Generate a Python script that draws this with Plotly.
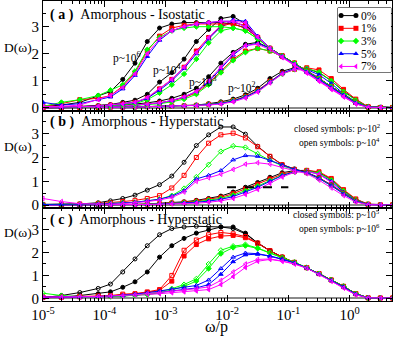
import numpy as np
import plotly.graph_objects as go

# log10(omega/p) of the sampled frequencies (same grid for every spectrum)
LOG_W = [-5.0, -4.7, -4.4, -4.1, -3.9, -3.7, -3.5, -3.3, -3.1, -2.9, -2.7, -2.5, -2.3, -2.1,
         -1.9, -1.7, -1.5, -1.3, -1.1, -0.9, -0.7, -0.5, -0.3, -0.1, 0.1, 0.3, 0.5, 0.7]

COMPOSITIONS = ["0%", "1%", "3%", "5%", "7%"]
COLORS = ["#000000", "#ff0000", "#00ff00", "#0000ff", "#ff00ff"]
SYMBOLS = ["circle", "square", "diamond", "triangle-up", "triangle-left"]

XTICK_VALUES = [1e-5, 1e-4, 1e-3, 1e-2, 1e-1, 1e0]
XTICK_LABELS = ["10<sup>-5</sup>", "10<sup>-4</sup>", "10<sup>-3</sup>",
                "10<sup>-2</sup>", "10<sup>-1</sup>", "10<sup>0</sup>"]

# (a) amorphous, isostatic
A_P6_0 = [0.05, 0.1, 0.2, 0.45, 0.6, 1.05, 1.65, 2.45, 2.95, 3.1, 3.15, 3.15, 3.15, 3.15, 3.1, 2.95, 2.6, 2.2, 1.92, 1.65, 1.36, 1.08, 0.78, 0.5, 0.2, 0.03, 0.01, 0.01]
A_P6_1 = [0.05, 0.15, 0.3, 0.35, 0.45, 0.8, 1.3, 2.1, 2.65, 2.95, 3.05, 3.1, 3.1, 3.1, 3.1, 2.95, 2.6, 2.2, 1.92, 1.65, 1.36, 1.08, 0.78, 0.5, 0.2, 0.03, 0.01, 0.01]
A_P6_3 = [0.05, 0.2, 0.3, 0.45, 0.65, 0.85, 1.35, 2.15, 2.6, 2.85, 2.95, 3.0, 3.0, 3.0, 2.95, 2.85, 2.55, 2.2, 1.92, 1.65, 1.36, 1.08, 0.78, 0.5, 0.2, 0.03, 0.01, 0.01]
A_P6_5 = [0.2, 0.1, 0.15, 0.3, 0.4, 0.7, 1.2, 1.9, 2.5, 2.85, 3.0, 3.1, 3.15, 3.2, 3.2, 3.0, 2.62, 2.2, 1.9, 1.62, 1.33, 1.05, 0.75, 0.47, 0.18, 0.03, 0.01, 0.01]
A_P6_7 = [0.05, 0.05, 0.1, 0.3, 0.45, 0.75, 1.25, 2.0, 2.55, 2.85, 3.0, 3.1, 3.15, 3.2, 3.2, 3.0, 2.62, 2.2, 1.88, 1.6, 1.3, 1.0, 0.7, 0.42, 0.15, 0.02, 0.01, 0.01]

A_P4_0 = [0.02, 0.02, 0.05, 0.08, 0.12, 0.2, 0.28, 0.5, 0.95, 1.3, 1.8, 2.45, 2.9, 3.3, 3.38, 3.1, 2.6, 2.2, 1.92, 1.65, 1.36, 1.08, 0.78, 0.5, 0.2, 0.03, 0.01, 0.01]
A_P4_1 = [0.02, 0.02, 0.04, 0.06, 0.1, 0.14, 0.2, 0.35, 0.7, 1.05, 1.5, 2.1, 2.6, 3.0, 3.15, 3.05, 2.6, 2.2, 1.92, 1.65, 1.36, 1.08, 0.78, 0.5, 0.2, 0.03, 0.01, 0.01]
A_P4_3 = [0.02, 0.02, 0.03, 0.05, 0.08, 0.11, 0.15, 0.3, 0.55, 0.85, 1.25, 1.8, 2.4, 2.85, 2.95, 2.85, 2.55, 2.2, 1.92, 1.65, 1.36, 1.08, 0.78, 0.5, 0.2, 0.03, 0.01, 0.01]
A_P4_5 = [0.02, 0.02, 0.04, 0.06, 0.1, 0.14, 0.2, 0.35, 0.65, 1.0, 1.45, 2.0, 2.55, 3.0, 3.25, 3.2, 2.65, 2.2, 1.9, 1.62, 1.33, 1.05, 0.75, 0.47, 0.18, 0.03, 0.01, 0.01]
A_P4_7 = [0.02, 0.02, 0.04, 0.06, 0.1, 0.14, 0.2, 0.38, 0.7, 1.05, 1.5, 2.05, 2.6, 3.05, 3.2, 3.15, 2.62, 2.2, 1.88, 1.6, 1.3, 1.0, 0.7, 0.42, 0.15, 0.02, 0.01, 0.01]

A_P3_0 = [0.0, 0.01, 0.02, 0.04, 0.06, 0.1, 0.14, 0.18, 0.25, 0.35, 0.5, 0.72, 1.15, 1.65, 2.05, 2.35, 2.42, 2.2, 1.92, 1.65, 1.36, 1.08, 0.78, 0.5, 0.2, 0.03, 0.01, 0.01]
A_P3_1 = [0.0, 0.01, 0.02, 0.03, 0.05, 0.07, 0.1, 0.13, 0.18, 0.25, 0.38, 0.55, 0.9, 1.35, 1.8, 2.1, 2.2, 2.1, 1.9, 1.65, 1.36, 1.08, 0.78, 0.5, 0.2, 0.03, 0.01, 0.01]
A_P3_3 = [0.0, 0.01, 0.02, 0.03, 0.04, 0.06, 0.09, 0.11, 0.15, 0.22, 0.32, 0.5, 0.85, 1.3, 1.75, 2.05, 2.2, 2.1, 1.9, 1.65, 1.36, 1.08, 0.78, 0.5, 0.2, 0.03, 0.01, 0.01]
A_P3_5 = [0.0, 0.01, 0.02, 0.03, 0.05, 0.07, 0.1, 0.13, 0.18, 0.27, 0.4, 0.6, 0.95, 1.45, 1.95, 2.3, 2.38, 2.2, 1.9, 1.62, 1.33, 1.05, 0.75, 0.47, 0.18, 0.03, 0.01, 0.01]
A_P3_7 = [0.0, 0.01, 0.02, 0.03, 0.05, 0.07, 0.1, 0.13, 0.18, 0.27, 0.4, 0.6, 1.0, 1.5, 2.0, 2.3, 2.35, 2.15, 1.85, 1.58, 1.28, 0.98, 0.68, 0.4, 0.14, 0.02, 0.01, 0.01]

A_P2_0 = [0.0, 0.0, 0.01, 0.01, 0.02, 0.02, 0.03, 0.04, 0.05, 0.06, 0.08, 0.1, 0.15, 0.22, 0.32, 0.48, 0.72, 1.08, 1.35, 1.48, 1.45, 1.3, 1.0, 0.62, 0.3, 0.03, 0.01, 0.01]
A_P2_1 = [0.0, 0.0, 0.01, 0.01, 0.02, 0.02, 0.03, 0.04, 0.05, 0.06, 0.07, 0.09, 0.13, 0.18, 0.27, 0.42, 0.65, 0.98, 1.28, 1.42, 1.48, 1.4, 1.08, 0.68, 0.32, 0.04, 0.01, 0.01]
A_P2_3 = [0.0, 0.0, 0.01, 0.01, 0.02, 0.02, 0.03, 0.04, 0.05, 0.06, 0.07, 0.09, 0.12, 0.17, 0.26, 0.4, 0.62, 0.95, 1.25, 1.42, 1.45, 1.32, 1.0, 0.6, 0.28, 0.03, 0.01, 0.01]
A_P2_5 = [0.0, 0.0, 0.01, 0.01, 0.02, 0.02, 0.03, 0.04, 0.05, 0.06, 0.07, 0.09, 0.12, 0.16, 0.25, 0.4, 0.62, 0.95, 1.28, 1.45, 1.42, 1.22, 0.9, 0.52, 0.22, 0.02, 0.01, 0.01]
A_P2_7 = [0.0, 0.0, 0.01, 0.01, 0.02, 0.02, 0.03, 0.04, 0.05, 0.06, 0.07, 0.08, 0.1, 0.14, 0.22, 0.36, 0.58, 0.92, 1.25, 1.42, 1.38, 1.12, 0.78, 0.42, 0.15, 0.02, 0.01, 0.01]

# (b) amorphous, hyperstatic: open p~1e4, closed p~1e2
B_P4_0 = [0.02, 0.02, 0.05, 0.1, 0.18, 0.28, 0.42, 0.63, 0.86, 1.22, 1.8, 2.5, 2.95, 3.28, 3.28, 2.98, 2.47, 2.05, 1.7, 1.52, 1.38, 1.15, 0.85, 0.5, 0.18, 0.03, 0.01, 0.01]
B_P4_1 = [0.03, 0.03, 0.05, 0.07, 0.1, 0.15, 0.2, 0.28, 0.4, 0.72, 1.25, 2.0, 2.6, 2.95, 3.02, 2.82, 2.45, 2.05, 1.7, 1.5, 1.36, 1.14, 0.84, 0.5, 0.18, 0.03, 0.01, 0.01]
B_P4_3 = [0.03, 0.03, 0.04, 0.05, 0.07, 0.09, 0.12, 0.18, 0.25, 0.4, 0.7, 1.18, 1.7, 2.25, 2.48, 2.42, 2.15, 1.88, 1.65, 1.48, 1.35, 1.12, 0.82, 0.48, 0.17, 0.03, 0.01, 0.01]
B_P4_5 = [0.03, 0.03, 0.04, 0.05, 0.07, 0.09, 0.12, 0.18, 0.25, 0.38, 0.6, 1.1, 1.25, 1.45, 1.9, 2.08, 2.05, 1.88, 1.68, 1.5, 1.36, 1.12, 0.82, 0.47, 0.16, 0.03, 0.01, 0.01]
B_P4_7 = [0.28, 0.15, 0.06, 0.03, 0.04, 0.06, 0.1, 0.15, 0.22, 0.32, 0.55, 1.0, 1.15, 1.3, 1.5, 1.72, 1.78, 1.72, 1.58, 1.45, 1.32, 1.05, 0.72, 0.4, 0.13, 0.02, 0.01, 0.01]

B_P2_0 = [0.0, 0.0, 0.0, 0.01, 0.01, 0.02, 0.03, 0.05, 0.07, 0.1, 0.14, 0.2, 0.28, 0.38, 0.55, 0.75, 0.95, 1.17, 1.36, 1.45, 1.46, 1.37, 1.08, 0.62, 0.24, 0.04, 0.01, 0.01]
B_P2_1 = [0.0, 0.0, 0.0, 0.01, 0.01, 0.02, 0.03, 0.04, 0.06, 0.09, 0.12, 0.17, 0.24, 0.33, 0.48, 0.68, 0.88, 1.1, 1.3, 1.42, 1.46, 1.4, 1.12, 0.65, 0.26, 0.04, 0.01, 0.01]
B_P2_3 = [0.0, 0.0, 0.0, 0.01, 0.01, 0.02, 0.03, 0.04, 0.05, 0.07, 0.1, 0.14, 0.2, 0.28, 0.42, 0.6, 0.8, 1.03, 1.25, 1.4, 1.43, 1.35, 1.05, 0.6, 0.22, 0.03, 0.01, 0.01]
B_P2_5 = [0.0, 0.0, 0.0, 0.01, 0.01, 0.02, 0.02, 0.03, 0.05, 0.07, 0.09, 0.12, 0.17, 0.24, 0.36, 0.54, 0.75, 1.0, 1.24, 1.4, 1.42, 1.3, 1.0, 0.55, 0.2, 0.03, 0.01, 0.01]
B_P2_7 = [0.0, 0.0, 0.0, 0.01, 0.01, 0.01, 0.02, 0.03, 0.04, 0.05, 0.06, 0.08, 0.12, 0.18, 0.28, 0.45, 0.66, 0.92, 1.18, 1.38, 1.42, 1.3, 0.95, 0.5, 0.17, 0.02, 0.01, 0.01]

# (c) amorphous, hyperstatic: open p~1e6, closed p~1e5
C_P6_0 = [0.03, 0.12, 0.25, 0.43, 0.62, 1.15, 1.72, 2.3, 2.78, 3.05, 3.12, 3.15, 3.15, 3.12, 3.05, 2.82, 2.42, 2.08, 1.8, 1.57, 1.34, 1.08, 0.8, 0.52, 0.2, 0.02, 0.01, 0.01]
C_P6_1 = [0.05, 0.05, 0.08, 0.1, 0.12, 0.18, 0.2, 0.28, 0.38, 1.0, 2.1, 2.55, 2.78, 2.88, 2.82, 2.7, 2.42, 2.08, 1.8, 1.57, 1.34, 1.08, 0.8, 0.52, 0.2, 0.02, 0.01, 0.01]
C_P6_3 = [0.22, 0.12, 0.06, 0.06, 0.08, 0.1, 0.13, 0.18, 0.28, 0.42, 0.6, 0.85, 1.5, 2.1, 2.28, 2.35, 2.2, 2.0, 1.78, 1.57, 1.34, 1.08, 0.8, 0.52, 0.2, 0.02, 0.01, 0.01]
C_P6_5 = [0.05, 0.05, 0.06, 0.08, 0.1, 0.13, 0.18, 0.24, 0.32, 0.4, 0.48, 0.56, 0.8, 1.3, 1.8, 1.98, 1.95, 1.85, 1.72, 1.55, 1.33, 1.06, 0.78, 0.5, 0.18, 0.02, 0.01, 0.01]
C_P6_7 = [0.05, 0.05, 0.06, 0.08, 0.1, 0.12, 0.15, 0.2, 0.25, 0.3, 0.36, 0.42, 0.5, 0.78, 1.15, 1.5, 1.7, 1.72, 1.63, 1.5, 1.32, 1.05, 0.75, 0.45, 0.15, 0.02, 0.01, 0.01]

C_P5_0 = [0.02, 0.05, 0.12, 0.2, 0.28, 0.48, 0.72, 1.15, 1.8, 2.3, 2.62, 2.85, 3.0, 3.12, 3.12, 2.85, 2.42, 2.08, 1.8, 1.57, 1.34, 1.08, 0.8, 0.52, 0.2, 0.02, 0.01, 0.01]
C_P5_1 = [0.03, 0.04, 0.06, 0.08, 0.1, 0.14, 0.18, 0.25, 0.35, 0.75, 1.85, 2.35, 2.6, 2.72, 2.75, 2.65, 2.4, 2.08, 1.8, 1.57, 1.34, 1.08, 0.8, 0.52, 0.2, 0.02, 0.01, 0.01]
C_P5_3 = [0.05, 0.05, 0.06, 0.07, 0.08, 0.1, 0.12, 0.16, 0.24, 0.36, 0.52, 0.75, 1.3, 1.95, 2.22, 2.3, 2.18, 1.98, 1.78, 1.57, 1.34, 1.08, 0.8, 0.52, 0.2, 0.02, 0.01, 0.01]
C_P5_5 = [0.04, 0.04, 0.05, 0.06, 0.08, 0.1, 0.14, 0.19, 0.26, 0.33, 0.4, 0.45, 0.6, 1.05, 1.6, 1.9, 1.93, 1.84, 1.7, 1.54, 1.33, 1.06, 0.78, 0.5, 0.18, 0.02, 0.01, 0.01]
C_P5_7 = [0.04, 0.04, 0.05, 0.06, 0.08, 0.1, 0.12, 0.16, 0.2, 0.24, 0.28, 0.32, 0.38, 0.6, 0.95, 1.35, 1.62, 1.7, 1.62, 1.5, 1.32, 1.05, 0.75, 0.45, 0.15, 0.02, 0.01, 0.01]

# dashed reference segment in panel (b)
DASH_X = [1e-2, 1e-1]
DASH_Y = [0.75, 0.75]

FONT = "Liberation Serif, Times New Roman, serif"
w = 10 ** np.array(LOG_W)

fig = go.Figure()


def add_group(series, ax, open_symbols=False):
    for values, color, symbol in zip(series, COLORS, SYMBOLS):
        fig.add_scatter(
            x=w, y=values, xaxis="x" + ax, yaxis="y" + ax,
            mode="lines+markers", showlegend=False,
            line=dict(color=color, width=1),
            marker=dict(symbol=symbol + ("-open" if open_symbols else ""), size=4,
                        color=color, line=dict(color=color, width=1)),
        )


add_group([A_P2_0, A_P2_1, A_P2_3, A_P2_5, A_P2_7], "")
add_group([A_P3_0, A_P3_1, A_P3_3, A_P3_5, A_P3_7], "")
add_group([A_P4_0, A_P4_1, A_P4_3, A_P4_5, A_P4_7], "")
add_group([A_P6_0, A_P6_1, A_P6_3, A_P6_5, A_P6_7], "")
add_group([B_P2_0, B_P2_1, B_P2_3, B_P2_5, B_P2_7], "2")
add_group([B_P4_0, B_P4_1, B_P4_3, B_P4_5, B_P4_7], "2", open_symbols=True)
add_group([C_P5_0, C_P5_1, C_P5_3, C_P5_5, C_P5_7], "3")
add_group([C_P6_0, C_P6_1, C_P6_3, C_P6_5, C_P6_7], "3", open_symbols=True)

fig.add_scatter(x=DASH_X, y=DASH_Y, xaxis="x2", yaxis="y2", mode="lines", showlegend=False,
                line=dict(color="black", width=2, dash="dash"))

# hand-made legend box (plotly's own legend rows are too tall here)
for i, (name, color, symbol) in enumerate(zip(COMPOSITIONS, COLORS, SYMBOLS)):
    row = 0.88 - 0.198 * i
    fig.add_scatter(x=[0.06, 0.34], y=[row, row], xaxis="x4", yaxis="y4",
                    mode="lines+markers", showlegend=False,
                    line=dict(color=color, width=1),
                    marker=dict(symbol=symbol, size=5, color=color))
    fig.add_annotation(x=0.42, y=row, xref="x4", yref="y4", text=name, showarrow=False,
                       xanchor="left", borderpad=0,
                       font=dict(size=11.5, color="black", family=FONT))
fig.add_shape(type="rect", xref="paper", yref="paper", x0=0.845, x1=0.997, y0=0.763, y1=0.977,
              line=dict(color="black", width=1), fillcolor="white", layer="below")

minor_vals = [k * 10.0 ** e for e in range(-5, 1) for k in range(2, 10)]
xaxis_style = dict(
    type="log", range=[-5, 0.69], tickvals=XTICK_VALUES, ticktext=XTICK_LABELS,
    ticks="inside", ticklen=6, tickcolor="black", mirror="ticks",
    showline=True, linecolor="black", linewidth=1.2, showgrid=False, zeroline=False,
    minor=dict(ticks="inside", ticklen=3, tickcolor="black", tickmode="array", tickvals=minor_vals),
    tickfont=dict(size=15, color="black", family=FONT),
)
yaxis_style = dict(
    range=[-0.12, 3.95], tick0=0, dtick=1, ticks="inside", ticklen=6, tickcolor="black",
    mirror="ticks", showline=True, linecolor="black", linewidth=1.2, showgrid=False,
    zeroline=True, zerolinecolor="#8a8a8a", zerolinewidth=2,
    minor=dict(ticks="inside", ticklen=3, tickcolor="black", dtick=0.5),
    tickfont=dict(size=15, color="black", family=FONT),
)

fig.update_layout(
    width=395, height=338,
    margin=dict(l=43, r=3, t=1, b=37),
    plot_bgcolor="white", paper_bgcolor="white",
    font=dict(family=FONT, color="black"),
    xaxis=dict(xaxis_style, anchor="y", showticklabels=False),
    xaxis2=dict(xaxis_style, anchor="y2", matches="x", showticklabels=False),
    xaxis3=dict(xaxis_style, anchor="y3", matches="x"),
    yaxis=dict(yaxis_style, domain=[0.6333, 1.0], anchor="x"),
    yaxis2=dict(yaxis_style, domain=[0.31, 0.6333], anchor="x2"),
    yaxis3=dict(yaxis_style, domain=[0.0, 0.31], anchor="x3"),
    xaxis4=dict(domain=[0.845, 0.997], range=[0, 1], visible=False, anchor="y4"),
    yaxis4=dict(domain=[0.763, 0.977], range=[0, 1], visible=False, anchor="x4"),
)

panel_titles = [
    ("<b>(\u00a0a\u00a0)</b>\u00a0\u00a0Amorphous - Isostatic", 0.953),
    ("<b>(\u00a0b\u00a0)</b>\u00a0\u00a0Amorphous - Hyperstatic", 0.597),
    ("<b>(\u00a0c\u00a0)</b>\u00a0\u00a0Amorphous - Hyperstatic", 0.27),
]
for text, y in panel_titles:
    fig.add_annotation(x=0.014, y=y, xref="paper", yref="paper", text=text, showarrow=False,
                       xanchor="left", yanchor="middle", font=dict(size=14, family=FONT, color="black"))

# horizontal y titles, one per panel
for y in [0.873, 0.515, 0.2]:
    fig.add_annotation(x=0.0, y=y, xref="paper", yref="paper", text="D(ω)", showarrow=False,
                       xanchor="right", xshift=-10, borderpad=0,
                       font=dict(size=13.5, family=FONT, color="black"))

fig.add_annotation(x=0.496, y=-0.085, xref="paper", yref="paper", text="ω/p", showarrow=False,
                   yanchor="middle", borderpad=0,
                   font=dict(size=16, family=FONT, color="black"))

# pressure labels in panel (a); x in log10 units
for text, lx, ly in [("p~10<sup>6</sup>", -3.63, 1.85), ("p~10<sup>4</sup>", -2.98, 1.4),
                     ("p~10<sup>3</sup>", -2.39, 0.96), ("p~10<sup>2</sup>", -1.75, 0.74)]:
    fig.add_annotation(x=lx, y=ly, xref="x", yref="y", text=text, showarrow=False,
                       font=dict(size=11.5, family=FONT, color="black"))

for text, y in [("closed symbols: p~10<sup>2</sup>", 0.577),
                ("open symbols: p~10<sup>4</sup>", 0.53),
                ("closed symbols: p~10<sup>5</sup>", 0.262),
                ("open symbols: p~10<sup>6</sup>", 0.218)]:
    fig.add_annotation(x=0.97, y=y, xref="paper", yref="paper", text=text, showarrow=False,
                       xanchor="right", font=dict(size=9.5, family=FONT, color="black"))

fig.write_html("out.html", config={"displayModeBar": False},
               post_script="document.body.style.margin = '0px';")
